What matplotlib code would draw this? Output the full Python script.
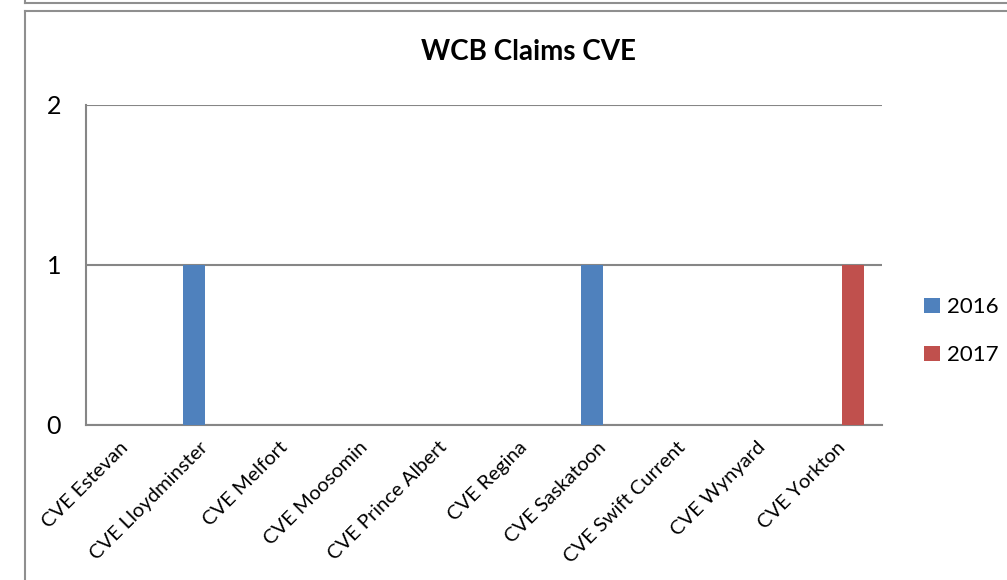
import matplotlib.pyplot as plt
import numpy as np

# data
categories = ['CVE Estevan', 'CVE Lloydminster', 'CVE Melfort', 'CVE Moosomin',
              'CVE Prince Albert', 'CVE Regina', 'CVE Saskatoon', 'CVE Swift Current',
              'CVE Wynyard', 'CVE Yorkton']
claims_2016 = [0, 1, 0, 0, 0, 0, 1, 0, 0, 0]
claims_2017 = [0, 0, 0, 0, 0, 0, 0, 0, 0, 1]
y_ticks = [0, 1, 2]

plt.rcParams['font.family'] = ['Lato', 'DejaVu Sans']

fig = plt.figure(figsize=(10.07, 5.8), dpi=100)
ax = fig.add_axes([86 / 1007, 1 - 425 / 580, (882 - 86) / 1007, 320 / 580])

x = np.arange(len(categories))
w = 0.28
ax.bar(x - w / 2, claims_2016, w, color='#4F81BD', label='2016', zorder=3)
ax.bar(x + w / 2, claims_2017, w, color='#C0504D', label='2017', zorder=3)

ax.set_xlim(-0.5, len(categories) - 0.5)
ax.set_ylim(0, 2)
ax.set_yticks(y_ticks)
ax.set_yticklabels([str(t) for t in y_ticks], fontsize=18)
ax.tick_params(axis='y', length=0, pad=18)
ax.set_xticks(x)
ax.set_xticklabels(categories, rotation=45, ha='right', va='center',
                   rotation_mode='anchor', fontsize=14.5)
ax.tick_params(axis='x', length=0, pad=14)

ax.grid(axis='y', color='#868686', linewidth=1.5, zorder=1)
for s in ['top', 'right']:
    ax.spines[s].set_visible(False)
for s in ['left', 'bottom']:
    ax.spines[s].set_color('#868686')
    ax.spines[s].set_linewidth(1.5)

fig.text(0.5245, 1 - 52 / 580, 'WCB Claims CVE', ha='center', va='center',
         fontsize=20, fontweight='bold')

ax.legend(loc='center left', bbox_to_anchor=(924 / 1007, 0.429),
          bbox_transform=fig.transFigure, frameon=False, fontsize=16,
          handlelength=0.7, handleheight=0.7, handletextpad=0.35,
          labelspacing=1.25, borderpad=0, borderaxespad=0)

# outer chart frames
frame_color = '#8f8f8f'
fig.add_artist(plt.Line2D([24.5 / 1007, 24.5 / 1007], [0, 1 - 11 / 580],
                          transform=fig.transFigure, color=frame_color, lw=1.5))
fig.add_artist(plt.Line2D([24.5 / 1007, 1], [1 - 11 / 580, 1 - 11 / 580],
                          transform=fig.transFigure, color=frame_color, lw=1.5))
fig.add_artist(plt.Line2D([25 / 1007, 1], [1 - 3 / 580, 1 - 3 / 580],
                          transform=fig.transFigure, color=frame_color, lw=1.5))
fig.add_artist(plt.Line2D([25 / 1007, 25 / 1007], [1 - 3 / 580, 1],
                          transform=fig.transFigure, color=frame_color, lw=1.5))

fig.savefig('out.png', dpi=100)
